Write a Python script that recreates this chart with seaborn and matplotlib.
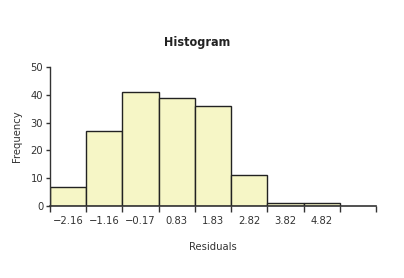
import matplotlib
matplotlib.use("Agg")
import matplotlib.pyplot as plt
import seaborn as sns
import numpy as np

centers = [-2.16, -1.16, -0.17, 0.83, 1.83, 2.82, 3.82, 4.82]
counts = [7, 27, 41, 39, 36, 11, 1, 1]
center_labels = ["\u22122.16", "\u22121.16", "\u22120.17", "0.83", "1.83", "2.82", "3.82", "4.82"]
bin_edges = [-2.66, -1.66, -0.67, 0.33, 1.33, 2.32, 3.32, 4.32, 5.32, 6.32]
y_ticks = [0, 10, 20, 30, 40, 50]

sns.set_style("white")
plt.rcParams['font.family'] = ['DejaVu Sans']
plt.rcParams['font.stretch'] = 'condensed'

fig = plt.figure(figsize=(4.04, 2.78), dpi=100)
ax = fig.add_axes([0.124, 0.259, 0.807, 0.500])

sns.histplot(x=centers, weights=counts, bins=bin_edges[:-1], ax=ax,
             color="#f6f6c6", edgecolor="#222222", linewidth=1.0, alpha=1.0)

ax.set_xlim(bin_edges[0], bin_edges[-1])
ax.set_ylim(0, 50)
ax.set_xticks(bin_edges)
ax.set_xticklabels([""] * len(bin_edges))
ax.set_xticks(centers, minor=True)
ax.set_xticklabels(center_labels, minor=True)
ax.set_yticks(y_ticks)
ax.tick_params(axis='x', which='major', direction='out', length=4, width=1, colors='#333333', bottom=True)
ax.tick_params(axis='x', which='minor', length=0, labelsize=8, labelcolor='#333333', pad=7)
ax.tick_params(axis='y', direction='out', length=3, width=1, colors='#333333', labelsize=8, left=True, pad=2)

for s in ['top', 'right']:
    ax.spines[s].set_visible(False)
ax.spines['left'].set_color('#333333')
ax.spines['bottom'].set_color('#333333')
ax.spines['left'].set_linewidth(1)
ax.spines['bottom'].set_linewidth(1.2)

ax.set_xlabel("Residuals", fontsize=8, color='#333333', labelpad=12)
ax.set_ylabel("Frequency", fontsize=8, color='#333333', labelpad=6)
ax.set_title("Histogram", fontsize=9, fontweight='bold', color='#222222', pad=15, x=0.45)

fig.savefig("out.png", dpi=100)
